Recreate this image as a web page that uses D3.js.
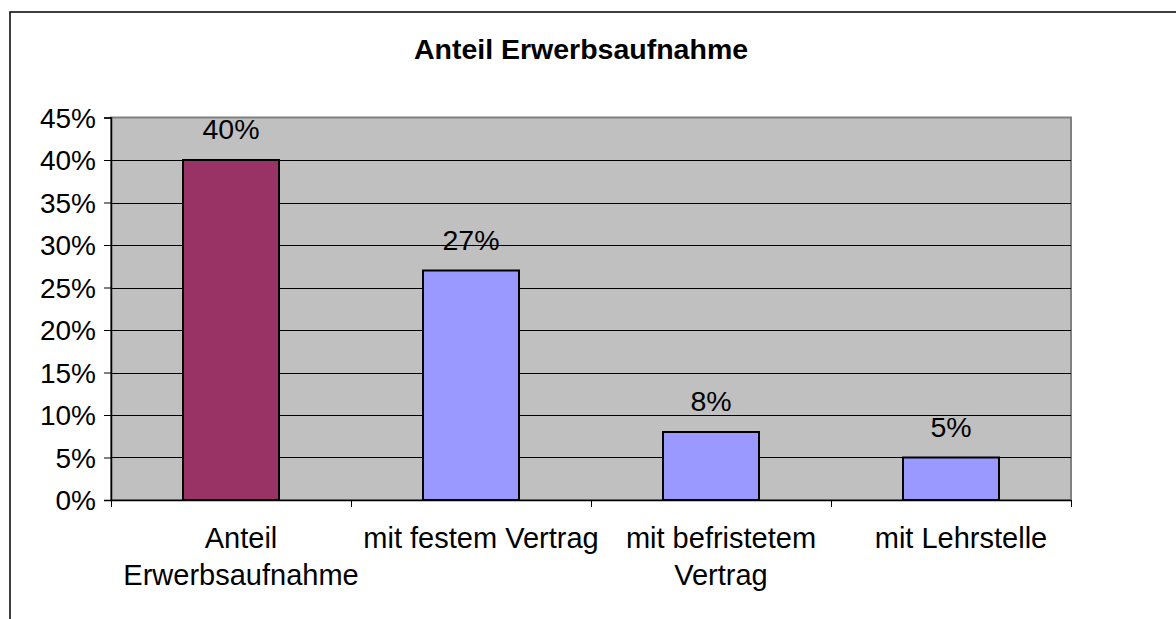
<!DOCTYPE html>
<html>
<head>
<meta charset="utf-8">
<script src="https://cdn.jsdelivr.net/npm/d3@7"></script>
<style>
  body { margin: 0; background: #fff; }
  text { font-family: "Liberation Sans", Arial, sans-serif; fill: #000; }
</style>
</head>
<body>
<div id="chart"></div>
<script>
// Anteil Erwerbsaufnahme - Säulendiagramm

const categories = ["Anteil Erwerbsaufnahme", "mit festem Vertrag", "mit befristetem Vertrag", "mit Lehrstelle"];
const categoryLines = [["Anteil", "Erwerbsaufnahme"], ["mit festem Vertrag"], ["mit befristetem", "Vertrag"], ["mit Lehrstelle"]];
const values = [40, 27, 8, 5];
const yTicks = [0, 5, 10, 15, 20, 25, 30, 35, 40, 45];

let W = 1176, H = 619;
let plot = { left: 111, top: 117.5, right: 1071, bottom: 500 };

let svg = d3.select("#chart")
    .append("svg")
    .attr("width", W)
    .attr("height", H);

// Rahmen (läuft über den Bildrand hinaus)
svg.append("rect")
    .attr("x", 10).attr("y", 12)
    .attr("width", 1200).attr("height", 700)
    .attr("fill", "#fff")
    .attr("stroke", "#000")
    .attr("stroke-width", 1.5);

// Titel
svg.append("text")
    .attr("x", 581)
    .attr("y", 59)
    .attr("text-anchor", "middle")
    .style("font-size", "28.5px")
    .style("font-weight", "bold")
    .text("Anteil Erwerbsaufnahme");

let x = d3.scaleBand()
    .domain(categories)
    .range([plot.left, plot.right])
    .padding(0);

let y = d3.scaleLinear()
    .domain([0, 45])
    .range([plot.bottom, plot.top]);

// Zeichenfläche
svg.append("rect")
    .attr("x", plot.left)
    .attr("y", plot.top)
    .attr("width", plot.right - plot.left)
    .attr("height", plot.bottom - plot.top)
    .attr("fill", "#C0C0C0")
    .attr("stroke", "#808080")
    .attr("stroke-width", 2);

// Gitternetz
svg.append("g")
    .selectAll("line")
    .data(yTicks.filter(d => d > 0 && d < 45))
    .enter()
    .append("line")
    .attr("x1", plot.left)
    .attr("x2", plot.right)
    .attr("y1", d => Math.round(y(d)) + 0.5)
    .attr("y2", d => Math.round(y(d)) + 0.5)
    .attr("stroke", "#000")
    .attr("stroke-width", 1);

// Säulen
let barW = x.bandwidth() * 0.4;
svg.append("g")
    .selectAll("rect")
    .data(values)
    .enter()
    .append("rect")
    .attr("x", (d, i) => x(categories[i]) + (x.bandwidth() - barW) / 2)
    .attr("y", d => y(d))
    .attr("width", barW)
    .attr("height", d => y(0) - y(d))
    .attr("fill", (d, i) => i === 0 ? "#993366" : "#9999FF")
    .attr("stroke", "#000")
    .attr("stroke-width", 2);

// Datenbeschriftung
svg.append("g")
    .selectAll("text")
    .data(values)
    .enter()
    .append("text")
    .attr("x", (d, i) => x(categories[i]) + x.bandwidth() / 2)
    .attr("y", d => y(d) - 21)
    .attr("text-anchor", "middle")
    .style("font-size", "28.5px")
    .text(d => d + "%");

// Y-Achse
let yAxis = svg.append("g")
    .attr("transform", "translate(" + plot.left + ",0)")
    .call(d3.axisLeft(y).tickValues(yTicks).tickFormat(d => d + "%").tickSize(7).tickPadding(8));
yAxis.select(".domain").attr("stroke", "#000").attr("stroke-width", 1.5);
yAxis.selectAll(".tick line").attr("stroke", "#000");
yAxis.selectAll(".tick text")
    .attr("dy", "0.35em")
    .style("font-size", "28px")
    .style("font-family", "'Liberation Sans', Arial, sans-serif");

// X-Achse mit Strichen an den Kategoriegrenzen
let xb = d3.scaleLinear().domain([0, categories.length]).range([plot.left, plot.right]);
let xAxis = svg.append("g")
    .attr("transform", "translate(0," + plot.bottom + ")")
    .call(d3.axisBottom(xb).tickValues(d3.range(categories.length + 1)).tickFormat("").tickSize(7).tickSizeOuter(0));
xAxis.select(".domain").attr("stroke", "#000").attr("stroke-width", 1.5);
xAxis.selectAll(".tick line").attr("stroke", "#000");

// Kategoriebeschriftung
let catLabels = svg.append("g")
    .selectAll("text")
    .data(categoryLines)
    .enter()
    .append("text")
    .attr("x", (d, i) => x(categories[i]) + x.bandwidth() / 2 + 10)
    .attr("y", 548)
    .attr("text-anchor", "middle")
    .style("font-size", "29px");

catLabels.selectAll("tspan")
    .data(d => d)
    .enter()
    .append("tspan")
    .attr("x", function () { return d3.select(this.parentNode).attr("x"); })
    .attr("dy", (d, i) => i === 0 ? 0 : 37)
    .text(d => d);
</script>
</body>
</html>
